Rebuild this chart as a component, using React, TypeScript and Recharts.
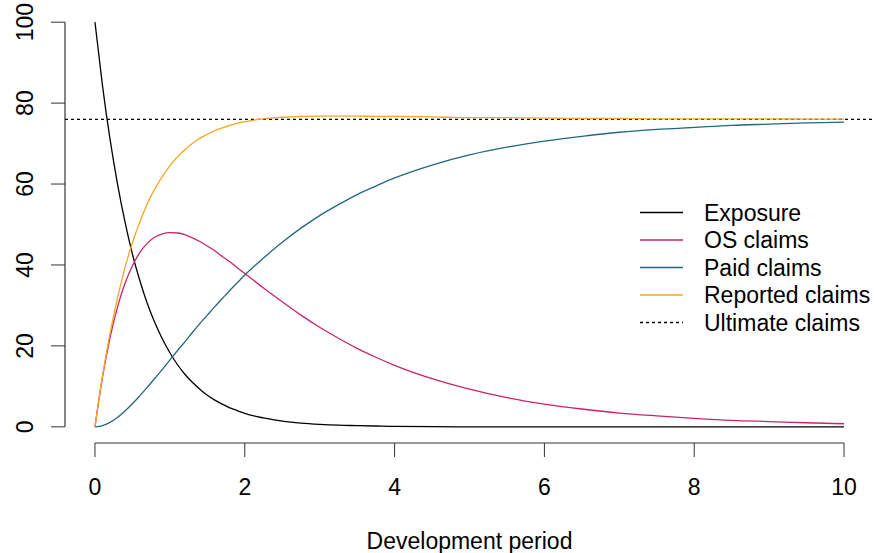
import { Line, LineChart, ReferenceLine, XAxis, YAxis } from "recharts";

const FONT = "'Liberation Sans', Arial, Helvetica, sans-serif";

const period = [
  0, 0.1, 0.2, 0.3, 0.4, 0.5, 0.6, 0.7, 0.8, 0.9, 1, 1.1, 1.2, 1.3, 1.4, 1.5,
  1.6, 1.7, 1.8, 1.9, 2, 2.25, 2.5, 2.75, 3, 3.25, 3.5, 3.75, 4, 4.5, 5, 5.5,
  6, 6.5, 7, 7.5, 8, 8.5, 9, 9.5, 10,
];

const exposure = [
  100, 84.4, 71.2, 60.1, 50.7, 42.7, 36.1, 30.4, 25.7, 21.7, 18.3, 15.4, 13.0,
  11.0, 9.3, 7.8, 6.6, 5.6, 4.7, 4.0, 3.3, 2.2, 1.4, 0.9, 0.6, 0.4, 0.3, 0.2,
  0.1, 0.05, 0, 0, 0, 0, 0, 0, 0, 0, 0, 0, 0,
];

const osClaims = [
  0, 12.2, 21.9, 29.5, 35.4, 39.8, 43.1, 45.4, 46.9, 47.7, 48.0, 47.9, 47.5,
  46.7, 45.8, 44.7, 43.5, 42.1, 40.8, 39.3, 37.9, 34.3, 30.9, 27.6, 24.6, 21.9,
  19.4, 17.2, 15.2, 11.9, 9.3, 7.2, 5.6, 4.4, 3.4, 2.7, 2.1, 1.6, 1.3, 1.0,
  0.76,
];

const paidClaims = [
  0, 0.3, 1.1, 2.3, 3.9, 5.7, 7.7, 9.8, 12.0, 14.2, 16.5, 18.8, 21.0, 23.3,
  25.5, 27.6, 29.7, 31.7, 33.7, 35.6, 37.5, 41.7, 45.6, 49.1, 52.2, 54.9, 57.4,
  59.5, 61.5, 64.7, 67.2, 69.1, 70.6, 71.8, 72.8, 73.5, 74.0, 74.5, 74.8, 75.1,
  75.3,
];

const reportedClaims = [
  0, 12.5, 23.0, 31.8, 39.3, 45.5, 50.7, 55.2, 58.8, 61.9, 64.5, 66.7, 68.5,
  70.0, 71.3, 72.3, 73.2, 73.9, 74.5, 75.0, 75.4, 76.1, 76.5, 76.7, 76.8, 76.8,
  76.8, 76.7, 76.7, 76.6, 76.4, 76.4, 76.3, 76.2, 76.2, 76.1, 76.1, 76.1, 76.1,
  76.05, 76.04,
];

const ultimateClaims = 76;

const xTicks = [0, 2, 4, 6, 8, 10];
const yTicks = [0, 20, 40, 60, 80, 100];

const series = [
  { key: "exposure", name: "Exposure", color: "#000000" },
  { key: "os", name: "OS claims", color: "#C8246C" },
  { key: "paid", name: "Paid claims", color: "#21687E" },
  { key: "reported", name: "Reported claims", color: "#F5A623" },
];

const rows = period.map((t, i) => ({
  t,
  exposure: exposure[i],
  os: osClaims[i],
  paid: paidClaims[i],
  reported: reportedClaims[i],
}));

const AXIS = "#333333";

function XTick({ x, payload }: any) {
  return (
    <text x={x} y={495} textAnchor="middle" fontFamily={FONT} fontSize={23} fill="#000">
      {payload.value}
    </text>
  );
}

function YTick({ y, payload }: any) {
  return (
    <text
      x={33}
      y={y}
      transform={`rotate(-90, 33, ${y})`}
      textAnchor="middle"
      fontFamily={FONT}
      fontSize={23}
      fill="#000"
    >
      {payload.value}
    </text>
  );
}

// legend drawn as an overlay so it does not take room from the plot
function LegendBox() {
  const items = [
    ...series.map((s) => ({ name: s.name, color: s.color, dash: undefined as string | undefined })),
    { name: "Ultimate claims", color: "#000000", dash: "3 3" },
  ];
  return (
    <svg width={234} height={140} style={{ position: "absolute", left: 640, top: 200 }}>
      {items.map((it, i) => {
        const cy = 12.5 + i * 27.5;
        return (
          <g key={it.name}>
            <line x1={0} x2={43} y1={cy} y2={cy} stroke={it.color} strokeWidth={1.3} strokeDasharray={it.dash} />
            <text x={64} y={cy + 8} fontFamily={FONT} fontSize={23} fill="#000">
              {it.name}
            </text>
          </g>
        );
      })}
    </svg>
  );
}

export default function App() {
  return (
    <div style={{ position: "absolute", left: 0, top: 0, width: 874, height: 553, background: "#fff" }}>
      <LineChart width={874} height={553} data={rows} margin={{ top: 6, right: 0, bottom: 0, left: 0 }}>
        <XAxis
          dataKey="t"
          type="number"
          domain={[-0.4, 10.4]}
          ticks={xTicks}
          axisLine={false}
          tickLine={{ stroke: AXIS }}
          tickSize={14}
          tick={<XTick />}
          height={110}
          label={({ viewBox }: any) => (
            <text
              x={viewBox.x + viewBox.width / 2}
              y={549}
              textAnchor="middle"
              fontFamily={FONT}
              fontSize={23}
              fill="#000"
            >
              Development period
            </text>
          )}
        />
        <YAxis
          type="number"
          domain={[-4, 104]}
          ticks={yTicks}
          axisLine={false}
          tickLine={{ stroke: AXIS }}
          tickSize={14}
          tick={<YTick />}
          width={65}
        />
        <ReferenceLine segment={[{ x: 0, y: -4 }, { x: 10, y: -4 }]} stroke={AXIS} strokeWidth={1.2} ifOverflow="visible" />
        <ReferenceLine segment={[{ x: -0.4, y: 0 }, { x: -0.4, y: 100 }]} stroke={AXIS} strokeWidth={1.2} ifOverflow="visible" />
        <ReferenceLine y={ultimateClaims} stroke="#000" strokeWidth={1.3} strokeDasharray="3 3" />
        {series.map((s) => (
          <Line
            key={s.key}
            type="monotone"
            dataKey={s.key}
            name={s.name}
            stroke={s.color}
            strokeWidth={1.3}
            dot={false}
            activeDot={false}
            isAnimationActive={false}
          />
        ))}
      </LineChart>
      <LegendBox />
    </div>
  );
}
